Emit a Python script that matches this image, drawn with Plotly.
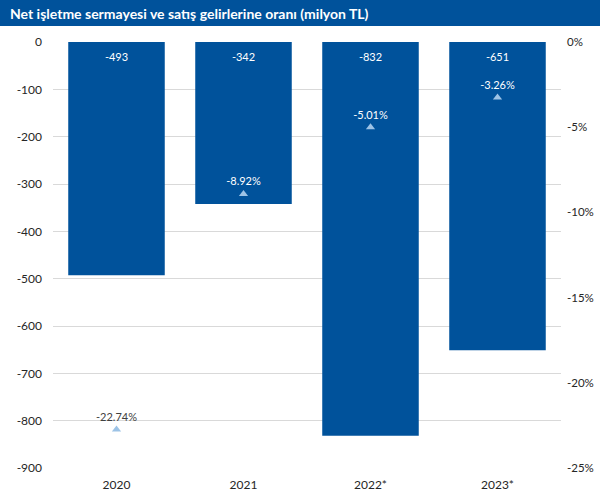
import plotly.graph_objects as go

years = ["2020", "2021", "2022*", "2023*"]
nwc = [-493, -342, -832, -651]
ratio = [-22.74, -8.92, -5.01, -3.26]
ratio_label_colors = ["#404040", "white", "white", "white"]
left_ticks = [0, -100, -200, -300, -400, -500, -600, -700, -800, -900]
right_ticks = [0, -5, -10, -15, -20, -25]

title = "Net işletme sermayesi ve satış gelirlerine oranı (milyon TL)"

W, H = 600, 493
L, R, T, B = 53, 39, 42, 25
pw, ph = W - L - R, H - T - B

fig = go.Figure()
fig.add_trace(go.Bar(
    x=years, y=nwc, marker=dict(color="#00529B", line=dict(width=0)),
    width=0.76, showlegend=False, hoverinfo="skip",
))
# value labels near the top of each bar
fig.add_trace(go.Scatter(
    x=years, y=[0] * len(years), mode="markers+text",
    marker=dict(size=16, opacity=0),
    text=[str(v) for v in nwc], textposition="bottom center",
    textfont=dict(color="white", size=11, family="Lato"),
    showlegend=False, hoverinfo="skip", cliponaxis=False,
))
fig.add_trace(go.Scatter(
    x=years, y=[r / 100 for r in ratio], yaxis="y2", mode="markers+text",
    marker=dict(symbol="triangle-up", size=8, color="#9DC3E6"),
    text=[f"{r:.2f}%" for r in ratio], textposition="top center",
    textfont=dict(color=ratio_label_colors, size=11, family="Lato"),
    showlegend=False, hoverinfo="skip", cliponaxis=False,
))

tickfont = dict(size=12, color="#262626", family="Lato")
fig.update_layout(
    width=W, height=H,
    margin=dict(l=L, r=R, t=T, b=B, autoexpand=False),
    paper_bgcolor="white", plot_bgcolor="white",
    font=dict(family="Lato", size=11, color="#404040"),
    xaxis=dict(showgrid=False, showline=False, ticks="", ticklabelstandoff=8,
               automargin=False, tickfont=tickfont),
    yaxis=dict(range=[-900, 0], tickvals=left_ticks,
               ticktext=[str(v) for v in left_ticks],
               showgrid=True, gridcolor="#D9D9D9", gridwidth=1, zeroline=False,
               ticks="", ticklabelstandoff=10, automargin=False, tickfont=tickfont),
    yaxis2=dict(range=[-0.25, 0], tickvals=[v / 100 for v in right_ticks],
                ticktext=[f"{v}%" for v in right_ticks], overlaying="y",
                side="right", showgrid=False, zeroline=False, ticks="",
                ticklabelstandoff=5, automargin=False,
                tickfont=dict(size=11.5, color="#262626", family="Lato")),
    shapes=[dict(type="rect", xref="paper", yref="paper",
                 x0=-L / pw, x1=1 + R / pw,
                 y0=1 + (T - 26) / ph, y1=1 + T / ph,
                 fillcolor="#00529B", line=dict(width=0), layer="above")],
    annotations=[dict(text=f"<b>{title}</b>", xref="paper", yref="paper",
                      x=(8 - L) / pw, y=1 + (T - 13) / ph, xanchor="left",
                      yanchor="middle", showarrow=False,
                      font=dict(color="white", size=14, family="Lato"))],
)

fig.write_html("out.html")
